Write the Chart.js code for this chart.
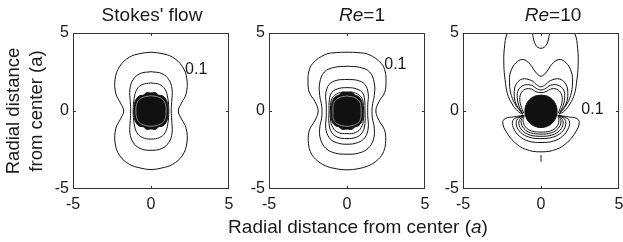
<!DOCTYPE html>
<html>
<head>
<meta charset="utf-8">
<script src="https://cdn.jsdelivr.net/npm/chart.js@4.4.0/dist/chart.umd.min.js"></script>
<style>
  html, body { margin: 0; padding: 0; background: #fff; overflow: hidden; }
  #fig { position: relative; width: 623px; height: 242px; font-family: "Liberation Sans", Arial, sans-serif; color: #1a1a1a; }
  #fig canvas { position: absolute; }
  .txt { position: absolute; white-space: nowrap; text-align: center; }
</style>
</head>
<body>
<div id="fig">
  <canvas id="stokes" width="195" height="200" style="left:40px;top:20px;width:195px;height:200px"></canvas>
  <canvas id="re1" width="194" height="200" style="left:236px;top:20px;width:194px;height:200px"></canvas>
  <canvas id="re10" width="193" height="200" style="left:430px;top:20px;width:193px;height:200px"></canvas>

  <div class="txt" style="left:52px;top:4px;width:200px;font-size:19px;line-height:22px">Stokes' flow</div>
  <div class="txt" style="left:262px;top:4px;width:200px;font-size:19px;line-height:22px"><i>Re</i>=1</div>
  <div class="txt" style="left:453px;top:4px;width:200px;font-size:19px;line-height:22px"><i>Re</i>=10</div>

  <div class="txt" style="left:-76px;top:88px;width:200px;font-size:18.5px;line-height:23px;transform:rotate(-90deg)">Radial distance<br>from center (a)</div>
  <div class="txt" style="left:158px;top:216px;width:400px;font-size:19px;line-height:22px">Radial distance from center (<i>a</i>)</div>
</div>

<script>
// axis ticks (units of sphere radius a)
const tickValues = [-5, 0, 5];
const contourLabel = '0.1';

// contours are given as right halves (x >= 0), in units of a; mirrored about x = 0

// Stokes' flow
const stokesOuter = [[0,-3.75],[0.7,-3.65],[1.38,-3.42],[2.0,-2.87],[2.3,-2.05],[2.25,-1.1],[1.95,-0.5],[1.75,0],[1.95,0.5],[2.25,1.1],[2.3,2.05],[2.0,2.87],[1.38,3.45],[0.7,3.68],[0,3.77]];
const stokesMid = [[0,-2.52],[0.7,-2.4],[1.15,-2.0],[1.35,-1.4],[1.33,-0.6],[1.3,0],[1.33,0.6],[1.35,1.4],[1.15,2.0],[0.7,2.4],[0,2.52]];
const stokesInner = [[0,-1.8],[0.55,-1.7],[0.9,-1.4],[1.08,-0.8],[1.14,0],[1.08,0.8],[0.9,1.4],[0.55,1.7],[0,1.8]];
const stokesRing = [[0,-0.98],[0.5,-0.88],[0.82,-0.66],[0.95,-0.3],[0.97,0],[0.95,0.3],[0.82,0.66],[0.5,0.88],[0,0.98]];
const stokesDisk = [[0,-1.15],[0.28,-1.18],[0.48,-1.02],[0.78,-0.95],[1.0,-0.66],[1.08,-0.3],[1.08,0.3],[1.0,0.66],[0.78,0.95],[0.48,1.02],[0.28,1.18],[0,1.15]];

// Re = 1
const re1Outer = [[0,-3.77],[0.7,-3.7],[1.4,-3.5],[2.0,-3.1],[2.35,-2.6],[2.48,-1.9],[2.4,-1.2],[2.05,-0.6],[1.85,0],[2.05,0.6],[2.42,1.2],[2.5,1.9],[2.45,2.5],[2.2,3.05],[1.4,3.62],[0.7,3.74],[0,3.77]];
const re1Second = [[0,-2.77],[0.75,-2.7],[1.35,-2.4],[1.7,-1.8],[1.75,-1.1],[1.62,-0.4],[1.62,0.3],[1.75,1.0],[1.75,1.8],[1.45,2.5],[0.8,2.8],[0,2.87]];
const re1Third = [[0,-2.13],[0.7,-2.02],[1.15,-1.7],[1.36,-1.1],[1.33,-0.3],[1.33,0.4],[1.36,1.1],[1.15,1.7],[0.65,1.97],[0,2.02]];
const re1Fourth = [[0,-1.77],[0.6,-1.68],[0.98,-1.38],[1.15,-0.8],[1.15,0],[1.13,0.7],[0.97,1.2],[0.5,1.45],[0,1.5]];
const re1Fifth = [[0,-1.45],[0.55,-1.38],[0.92,-1.05],[1.06,-0.5],[1.06,0.2],[0.96,0.8],[0.55,1.15],[0,1.22]];
const re1Ring = [[0,-0.98],[0.5,-0.88],[0.8,-0.66],[0.9,-0.3],[0.9,0.2],[0.82,0.58],[0.5,0.86],[0,0.96]];
const re1Disk = [[0,-1.16],[0.3,-1.18],[0.5,-1.03],[0.76,-0.93],[0.97,-0.63],[1.03,-0.2],[1.01,0.3],[0.92,0.68],[0.73,0.93],[0.5,1.03],[0.3,1.2],[0,1.18]];

// Re = 10 (open contours run off the top of the frame)
const re10Outer = [[0,6.5],[1.4,6.1],[2.15,5.0],[2.35,4.0],[2.38,2.9],[2.3,2.0],[2.15,1.1],[1.85,0.45],[1.5,0.0],[1.15,-0.22]];
const re10Cap = [[0,4.02],[0.2,4.08],[0.38,4.3],[0.5,4.7],[0.56,5.2]];
const re10Arch1 = [[0,2.23],[0.35,2.5],[0.7,3.0],[1.15,3.3],[1.6,3.1],[1.95,2.5],[2.02,1.8],[1.9,1.0],[1.6,0.35],[1.2,-0.15]];
const re10Arch2 = [[0,1.55],[0.3,1.7],[0.6,1.95],[1.2,2.05],[1.6,1.7],[1.72,1.1],[1.6,0.45],[1.3,0],[1.15,-0.2]];
const re10Arch3 = [[0,1.35],[0.3,1.45],[0.6,1.65],[1.1,1.65],[1.45,1.35],[1.52,0.85],[1.4,0.3],[1.2,-0.1]];
const re10Arch4 = [[0,1.18],[0.35,1.25],[0.6,1.4],[1.0,1.4],[1.3,1.1],[1.35,0.6],[1.2,0.1],[1.1,-0.15]];
const re10Low1 = [[0,-2.62],[1.0,-2.45],[1.7,-2.0],[2.25,-1.3],[2.45,-0.75],[2.3,-0.48],[1.75,-0.38],[1.15,-0.28]];
const re10Low2 = [[0,-2.02],[0.8,-1.93],[1.4,-1.6],[1.78,-1.05],[1.8,-0.6],[1.5,-0.4],[1.12,-0.3]];
const re10Low3 = [[0,-1.77],[0.75,-1.68],[1.3,-1.38],[1.58,-0.9],[1.5,-0.5],[1.1,-0.3]];
const re10Low4 = [[0,-1.62],[0.7,-1.54],[1.2,-1.25],[1.42,-0.8],[1.3,-0.45],[1.08,-0.28]];
const re10Low5 = [[0,-1.48],[0.65,-1.4],[1.1,-1.12],[1.28,-0.7],[1.18,-0.4],[1.05,-0.27]];
const re10Low6 = [[0,-1.35],[0.6,-1.28],[1.0,-1.02],[1.15,-0.62],[1.08,-0.35]];
const re10Stub = [[0,-2.83],[0,-3.25]];
const re10Disk = [[0,-1.06],[0.4,-0.98],[0.73,-0.76],[0.95,-0.43],[1.03,0],[0.95,0.4],[0.73,0.73],[0.4,0.95],[0,1.02]];

// mirror a right half into a full curve
function mirror(half) {
    const left = half.slice().reverse().map(([x, y]) => ({ x: -x, y: y }));
    const right = half.slice(1).map(([x, y]) => ({ x: x, y: y }));
    return left.concat(right);
}

function line(points, color) {
    return {
        data: points,
        showLine: true,
        borderColor: color || '#111',
        borderWidth: 1,
        pointRadius: 0,
        tension: 0.4,
        fill: false,
        order: 1
    };
}

function disk(half) {
    return {
        data: mirror(half),
        showLine: true,
        borderColor: '#111',
        backgroundColor: '#111',
        borderWidth: 1,
        pointRadius: 0,
        tension: 0.4,
        fill: 'shape',
        order: 2
    };
}

const tickFont = { family: '"Liberation Sans", Arial, sans-serif', size: 16 };

/**
 * Marco, marcas interiores y etiqueta 0.1
 */
const framePlugin = {
    id: 'frame',
    afterDatasetsDraw(chart, args, opts) {
        const ctx = chart.ctx;
        const a = chart.chartArea;
        const xs = chart.scales.x;
        const ys = chart.scales.y;
        ctx.save();
        ctx.strokeStyle = '#333';
        ctx.lineWidth = 1;
        ctx.strokeRect(a.left + 0.5, a.top + 0.5, a.right - a.left - 1, a.bottom - a.top - 1);
        const x0 = Math.round(xs.getPixelForValue(0)) + 0.5;
        const y0 = Math.round(ys.getPixelForValue(0)) + 0.5;
        ctx.beginPath();
        ctx.moveTo(x0, a.bottom); ctx.lineTo(x0, a.bottom - 3);
        ctx.moveTo(x0, a.top); ctx.lineTo(x0, a.top + 3);
        ctx.moveTo(a.left, y0); ctx.lineTo(a.left + 3, y0);
        ctx.moveTo(a.right, y0); ctx.lineTo(a.right - 3, y0);
        ctx.stroke();
        ctx.fillStyle = '#1a1a1a';
        ctx.font = '16px "Liberation Sans", Arial, sans-serif';
        ctx.textAlign = 'center';
        ctx.textBaseline = 'middle';
        ctx.fillText(contourLabel, xs.getPixelForValue(opts.labelAt[0]), ys.getPixelForValue(opts.labelAt[1]));
        ctx.restore();
    }
};

function makePanel(id, datasets, labelAt, rightPad) {
    const axis = (isX) => ({
        type: 'linear',
        min: -5,
        max: 5,
        afterBuildTicks: s => { s.ticks = tickValues.map(v => ({ value: v })); },
        grid: { display: false, drawTicks: false },
        border: { display: false },
        ticks: { font: tickFont, color: '#1a1a1a', padding: isX ? 6 : 4, maxRotation: 0, autoSkip: false },
        afterFit: s => {
            if (isX) { s.height = 31; s.paddingLeft = 0; s.paddingRight = 0; }
            else { s.width = 33; s.paddingTop = 0; s.paddingBottom = 0; }
        }
    });
    return new Chart(document.getElementById(id), {
        type: 'scatter',
        data: { datasets: datasets },
        options: {
            responsive: false,
            animation: false,
            events: [],
            layout: { padding: { top: 13, right: rightPad, bottom: 0, left: 0 } },
            plugins: { legend: { display: false }, tooltip: { enabled: false }, frame: { labelAt: labelAt } },
            scales: { x: axis(true), y: axis(false) }
        },
        plugins: [framePlugin]
    });
}

makePanel('stokes', [
    line(mirror(stokesOuter)), line(mirror(stokesMid)), line(mirror(stokesInner)),
    disk(stokesDisk), line(mirror(stokesRing), '#8a8a8a')
], [2.9, 2.65], 6);

makePanel('re1', [
    line(mirror(re1Outer)), line(mirror(re1Second)), line(mirror(re1Third)),
    line(mirror(re1Fourth)), line(mirror(re1Fifth)),
    disk(re1Disk), line(mirror(re1Ring), '#8a8a8a')
], [3.1, 3.0], 5);

makePanel('re10', [
    line(mirror(re10Outer)), line(mirror(re10Cap)),
    line(mirror(re10Arch1)), line(mirror(re10Arch2)), line(mirror(re10Arch3)), line(mirror(re10Arch4)),
    line(mirror(re10Low1)), line(mirror(re10Low2)), line(mirror(re10Low3)),
    line(mirror(re10Low4)), line(mirror(re10Low5)), line(mirror(re10Low6)),
    line(re10Stub.map(([x, y]) => ({ x: x, y: y }))),
    disk(re10Disk)
], [3.3, 0.1], 4);
</script>
</body>
</html>
